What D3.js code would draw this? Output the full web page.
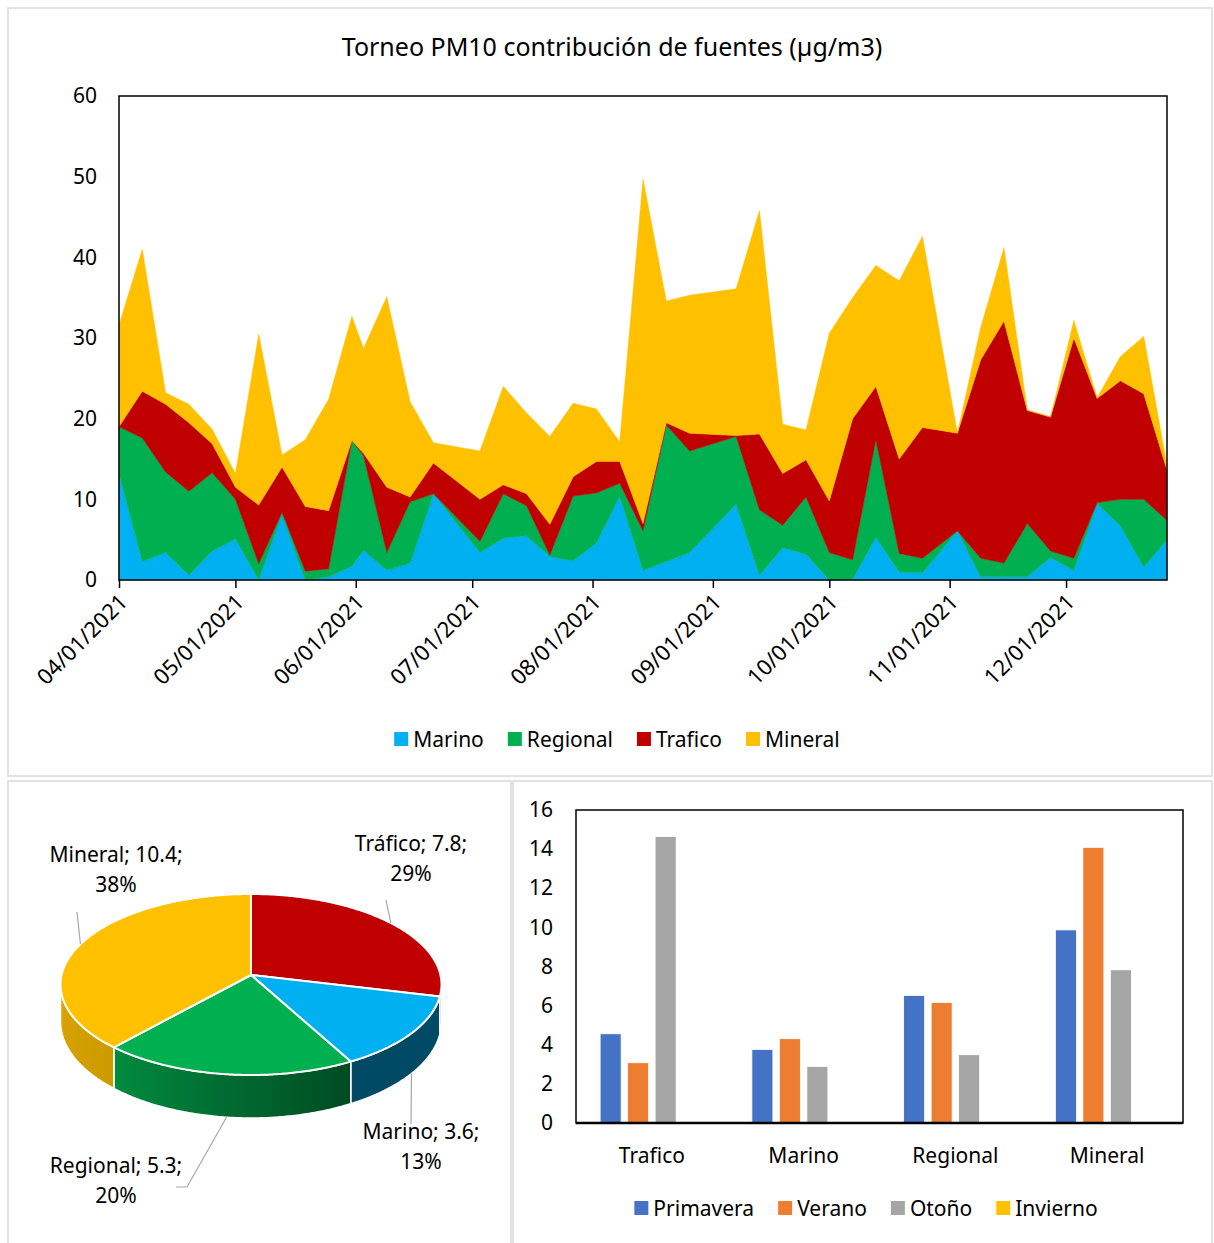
<!DOCTYPE html>
<html>
<head>
<meta charset="utf-8">
<script src="https://cdn.jsdelivr.net/npm/d3@7"></script>
<style>
  body { margin: 0; background: #fff; }
  svg { display: block; }
  text { font-family: "Noto Sans", "Open Sans", sans-serif; fill: #000; }
</style>
</head>
<body>
<svg id="chart" width="1214" height="1243"></svg>
<script>
// ---------------- DATA ----------------
const chartTitle = "Torneo PM10 contribución de fuentes (µg/m3)";

const dates = [
  "2021-04-01","2021-04-07","2021-04-13","2021-04-19","2021-04-25",
  "2021-05-01","2021-05-07","2021-05-13","2021-05-19","2021-05-25","2021-05-31",
  "2021-06-03","2021-06-09","2021-06-15","2021-06-21",
  "2021-07-03","2021-07-09","2021-07-15","2021-07-21","2021-07-27",
  "2021-08-02","2021-08-08","2021-08-14","2021-08-20","2021-08-26",
  "2021-09-07","2021-09-13","2021-09-19","2021-09-25",
  "2021-10-01","2021-10-07","2021-10-13","2021-10-19","2021-10-25",
  "2021-11-03","2021-11-09","2021-11-15","2021-11-21","2021-11-27",
  "2021-12-03","2021-12-09","2021-12-15","2021-12-21","2021-12-27"
];
const marino   = [13.2,2.3,3.4,0.6,3.6, 5.1,0.0,8.2,0.0,0.4,1.7, 3.7,1.2,2.1,10.7, 3.4,5.2,5.5,2.9,2.4, 4.6,10.4,1.2,2.3,3.4, 9.4,0.6,4.0,3.2, 0.0,0.1,5.3,1.0,0.9, 6.1,0.4,0.4,0.4,2.8, 1.2,9.5,6.7,1.6,5.0];
const regional = [5.8,15.3,10.0,10.4,9.7, 4.9,2.0,0.2,1.1,1.0,15.6, 11.7,2.2,7.6,0.0, 1.4,5.5,3.7,0.2,8.0, 6.2,1.6,4.9,16.9,12.6, 8.4,8.1,2.8,7.1, 3.4,2.4,12.1,2.3,1.8, 0.0,2.3,1.7,6.6,0.8, 1.5,0.1,3.3,8.4,2.4];
const trafico  = [0.0,5.8,8.4,8.5,3.6, 1.5,7.3,5.6,8.0,7.2,0.0, 0.3,8.1,0.6,3.8, 5.2,1.1,1.5,3.8,2.4, 3.9,2.7,0.9,0.3,2.2, 0.1,9.4,6.4,4.6, 6.4,17.5,6.6,11.7,16.2, 12.1,24.6,30.0,14.0,16.6, 27.3,12.9,14.7,13.1,6.2];
const mineral  = [12.6,17.6,1.4,2.3,1.8, 1.7,21.2,1.5,8.3,13.8,15.4, 13.0,23.6,11.8,2.5, 6.0,12.2,10.0,10.9,9.1, 6.5,2.4,42.7,15.1,17.1, 18.2,27.7,6.1,3.7, 20.8,15.0,15.0,22.1,23.7, 0.0,4.0,9.1,0.1,0.0, 2.2,0.1,3.0,7.1,0.6];

const areaSeries = ["Marino","Regional","Trafico","Mineral"];
const areaColors = ["#00B0F0","#00B050","#C00000","#FFC000"];
const areaYTicks = [0,10,20,30,40,50,60];
const monthTicks = ["2021-04-01","2021-05-01","2021-06-01","2021-07-01","2021-08-01","2021-09-01","2021-10-01","2021-11-01","2021-12-01"];

const pieLabels = ["Tráfico","Marino","Regional","Mineral"];
const pieValues = [7.8, 3.6, 5.3, 10.4];
const pieColors = ["#C00000","#00B0F0","#00B050","#FFC000"];

const barCategories = ["Trafico","Marino","Regional","Mineral"];
const seasons = ["Primavera","Verano","Otoño","Invierno"];
const seasonColors = ["#4472C4","#ED7D31","#A5A5A5","#FFC000"];
const primavera = [4.56, 3.76, 6.52, 9.87];
const verano    = [3.08, 4.31, 6.16, 14.09];
const otono     = [14.64, 2.89, 3.49, 7.83];
const invierno  = [null, null, null, null];
const barYTicks = [0,2,4,6,8,10,12,14,16];

// ---------------- SETUP ----------------
const svg = d3.select("#chart");
const FS = 21;
const FONT = '"Noto Sans", sans-serif';

const panelStroke = "#d9d9d9";
svg.append("rect").attr("x",8).attr("y",8).attr("width",1204).attr("height",768)
  .attr("fill","#fff").attr("stroke",panelStroke).attr("stroke-width",1.5);
svg.append("rect").attr("x",8).attr("y",781).attr("width",503).attr("height",480)
  .attr("fill","#fff").attr("stroke",panelStroke).attr("stroke-width",1.5);
svg.append("rect").attr("x",513).attr("y",781).attr("width",699).attr("height",480)
  .attr("fill","#fff").attr("stroke",panelStroke).attr("stroke-width",1.5);

// ---------------- TOP: STACKED AREA ----------------
const A = {left:119, right:1167, top:96, bottom:580};
const parse = d3.utcParse("%Y-%m-%d");
const rows = dates.map((d,i) => ({
  date: parse(d), Marino: marino[i], Regional: regional[i], Trafico: trafico[i], Mineral: mineral[i]
}));
const xA = d3.scaleUtc().domain(d3.extent(rows, d => d.date)).range([A.left, A.right]);
const yA = d3.scaleLinear().domain([0,60]).range([A.bottom, A.top]);

svg.append("text").attr("x",612).attr("y",56).attr("text-anchor","middle")
  .style("font-size","25px").text(chartTitle);

const stacked = d3.stack().keys(areaSeries)(rows);
const area = d3.area().x(d => xA(d.data.date)).y0(d => yA(d[0])).y1(d => yA(d[1]));
svg.append("g").selectAll("path").data(stacked).join("path")
  .attr("d", area)
  .attr("fill", (d,i) => areaColors[i])
  .attr("stroke", (d,i) => areaColors[i]).attr("stroke-width",0.5);

svg.append("rect").attr("x",A.left).attr("y",A.top)
  .attr("width",A.right-A.left).attr("height",A.bottom-A.top)
  .attr("fill","none").attr("stroke","#000").attr("stroke-width",1.5);

const yAxA = svg.append("g").attr("transform",`translate(${A.left},0)`)
  .call(d3.axisLeft(yA).tickValues(areaYTicks).tickSize(0).tickPadding(22));
yAxA.select(".domain").remove();
yAxA.selectAll("text").style("font-size",FS+"px").attr("fill","#000").style("font-family",FONT);

const xAxA = svg.append("g").attr("transform",`translate(0,${A.bottom})`)
  .call(d3.axisBottom(xA).tickValues(monthTicks.map(parse)).tickSize(8)
    .tickFormat(d3.utcFormat("%m/%d/%Y")));
xAxA.select(".domain").remove();
xAxA.selectAll(".tick line").attr("stroke","#000").attr("stroke-width",1.5);
xAxA.selectAll("text")
  .style("font-size","22px").attr("fill","#000").style("font-family",FONT)
  .attr("text-anchor","end").attr("dy","0.35em")
  .attr("y",0).attr("x",0)
  .attr("transform","translate(4,18) rotate(-45)");

function legend(items, colors, centerX, y) {
  const g = svg.append("g");
  const its = g.selectAll("g").data(items).join("g");
  its.append("rect").attr("width",14).attr("height",14).attr("y",y-7)
    .attr("fill",(d,i)=>colors[i]);
  its.append("text").attr("x",19).attr("y",y).attr("dy","0.36em")
    .style("font-size",FS+"px").text(d=>d);
  let x = 0; const gap = 24; const pos = [];
  its.each(function(){ pos.push(x); x += this.getBBox().width + gap; });
  const total = x - gap;
  its.attr("transform",(d,i)=>`translate(${centerX - total/2 + pos[i]},0)`);
}
legend(areaSeries, areaColors, 617, 739);

// ---------------- BOTTOM LEFT: 3D PIE (perspective) ----------------
const P = {cx:251, cy:984.5, rx:190.5, ry:90.5, t:-0.105, d0:37, d1:6};
const pieArcs = d3.pie().sort(null).value(d=>d)(pieValues);
const total = d3.sum(pieValues);
// projective map of the unit circle onto the top ellipse (centre of disc -> pie vertex)
function proj(theta) {
  const s = Math.sin(theta), c = -Math.cos(theta), t = P.t, den = 1 + t*c;
  return [s*Math.sqrt(1-t*t)/den, (c+t)/den];
}
function ept(theta, bottom) {
  const [X,Y] = proj(theta);
  let y = P.cy + P.ry*Y;
  if (bottom) y += P.d0 + P.d1*Y;
  return [P.cx + P.rx*X, y];
}
function arcPts(a0, a1, bottom) {
  const n = Math.max(2, Math.ceil(Math.abs(a1-a0)/0.01));
  return d3.range(n+1).map(i => ept(a0 + (a1-a0)*i/n, bottom));
}
const vertex = [P.cx, P.cy + P.ry*P.t];
const shade = d3.scaleLinear().domain([151, 222, 270]).range([0.42, 0.80, 0.87]).clamp(true);
const visA0 = Math.acos(P.t), visA1 = 2*Math.PI - Math.acos(P.t);

const defs = svg.append("defs");
const pieG = svg.append("g");
pieArcs.forEach((a,i) => {
  const s0 = Math.max(a.startAngle, visA0), s1 = Math.min(a.endAngle, visA1);
  if (s0 >= s1) return;
  const top = arcPts(s0, s1, false), bot = arcPts(s1, s0, true);
  const xL = ept(s1)[0], xR = ept(s0)[0];
  const gid = "side"+i;
  const grad = defs.append("linearGradient").attr("id",gid)
    .attr("gradientUnits","userSpaceOnUse").attr("x1",xL).attr("x2",xR).attr("y1",0).attr("y2",0);
  const base = d3.rgb(pieColors[i]);
  d3.range(9).forEach(k => {
    const th = s1 + (s0-s1)*k/8;
    const xx = ept(th)[0];
    const f = shade(th*180/Math.PI);
    grad.append("stop").attr("offset", Math.max(0,Math.min(1,(xx-xL)/(xR-xL))))
      .attr("stop-color", d3.rgb(base.r*f, base.g*f, base.b*f).formatHex());
  });
  pieG.append("path")
    .attr("d", "M" + top.concat(bot).map(p=>p.join(",")).join("L") + "Z")
    .attr("fill", `url(#${gid})`).attr("stroke","#fff").attr("stroke-width",1.5)
    .attr("stroke-linejoin","round");
});
pieArcs.forEach((a,i) => {
  const pts = [vertex].concat(arcPts(a.startAngle, a.endAngle, false));
  pieG.append("path").attr("d","M"+pts.map(p=>p.join(",")).join("L")+"Z")
    .attr("fill", pieColors[i]).attr("stroke","#fff").attr("stroke-width",2)
    .attr("stroke-linejoin","round");
});
const pieLabelPos = [
  {x:411, y:843, end:[[386,900]]},
  {x:421, y:1131, end:[[411,1124]]},
  {x:116, y:1165, end:[[187,1187],[176,1187]]},
  {x:116, y:854, end:[[77,912]]}
];
pieArcs.forEach((a,i) => {
  const mid = (a.startAngle + a.endAngle)/2;
  const front = proj(mid)[1] > 0;
  const start = ept(mid, front);
  const lp = pieLabelPos[i];
  const pts = [start].concat(lp.end);
  svg.append("path").attr("d","M"+pts.map(p=>p.join(",")).join("L"))
    .attr("fill","none").attr("stroke","#a6a6a6").attr("stroke-width",1.2);
  const t = svg.append("text").attr("text-anchor","middle").style("font-size",FS+"px");
  t.append("tspan").attr("x",lp.x).attr("y",lp.y).attr("dy","0.36em")
    .text(`${pieLabels[i]}; ${pieValues[i].toFixed(1)};`);
  t.append("tspan").attr("x",lp.x).attr("y",lp.y+30).attr("dy","0.36em")
    .text(d3.format(".0%")(pieValues[i]/total));
});

// ---------------- BOTTOM RIGHT: BAR CHART ----------------
const B = {left:576, right:1183, top:810, bottom:1123};
const seasonValues = [primavera, verano, otono, invierno];
const xB = d3.scaleBand().domain(barCategories).range([B.left, B.right]);
const clusterW = xB.bandwidth()*0.682;
const xS = d3.scaleBand().domain(seasons).range([-clusterW/2, clusterW/2]).paddingInner(0.236);
const yB = d3.scaleLinear().domain([0,16]).range([B.bottom, B.top]);

const barData = [];
barCategories.forEach((c,ci) => seasons.forEach((s,si) => {
  const v = seasonValues[si][ci];
  if (v != null) barData.push({c, s, v, color: seasonColors[si]});
}));
svg.append("g").selectAll("rect").data(barData).join("rect")
  .attr("x", d => xB(d.c) + xB.bandwidth()/2 + xS(d.s))
  .attr("width", xS.bandwidth())
  .attr("y", d => yB(d.v))
  .attr("height", d => yB(0) - yB(d.v))
  .attr("fill", d => d.color)
  .attr("stroke","#fff").attr("stroke-width",0.8);

svg.append("rect").attr("x",B.left).attr("y",B.top)
  .attr("width",B.right-B.left).attr("height",B.bottom-B.top)
  .attr("fill","none").attr("stroke","#000").attr("stroke-width",1.5);
svg.append("line").attr("x1",B.left).attr("x2",B.right).attr("y1",B.bottom).attr("y2",B.bottom)
  .attr("stroke","#000").attr("stroke-width",2.5);

const yAxB = svg.append("g").attr("transform",`translate(${B.left},0)`)
  .call(d3.axisLeft(yB).tickValues(barYTicks).tickSize(0).tickPadding(23));
yAxB.select(".domain").remove();
yAxB.selectAll("text").style("font-size",FS+"px").attr("fill","#000").style("font-family",FONT);

const xAxB = svg.append("g").attr("transform",`translate(0,${B.bottom})`)
  .call(d3.axisBottom(xB).tickSize(0).tickPadding(25));
xAxB.select(".domain").remove();
xAxB.selectAll("text").style("font-size",FS+"px").attr("fill","#000").style("font-family",FONT);

legend(seasons, seasonColors, 866, 1208);
</script>
</body>
</html>
